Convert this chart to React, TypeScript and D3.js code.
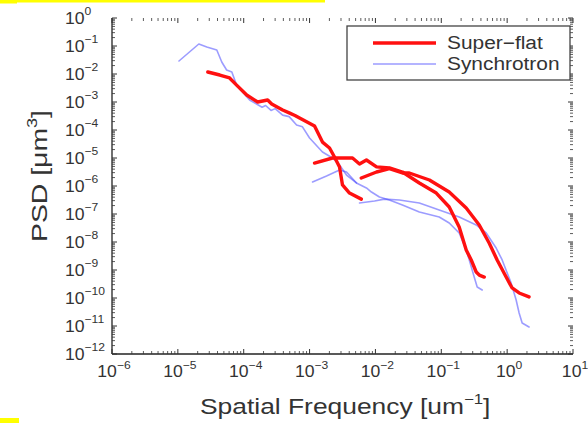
import React from "react";
import * as d3 from "d3";

// ---- data ----
const redAFreq = [2.85e-5, 4.33e-5, 6.1e-5, 7.8e-5, 1.11e-4, 1.63e-4, 2.31e-4, 2.66e-4, 3.9e-4, 5.0e-4, 6.0e-4, 7.05e-4, 1.19e-3, 1.57e-3, 2.01e-3, 2.39e-3, 2.85e-3, 3.16e-3, 4.04e-3, 6.1e-3];
const redAPsd = [1.18e-2, 9.2e-3, 7.2e-3, 4.0e-3, 1.78e-3, 1.0e-3, 1.18e-3, 8.5e-4, 5.2e-4, 4.0e-4, 3.3e-4, 2.68e-4, 1.39e-4, 3.7e-5, 2.28e-5, 1.09e-5, 4.8e-6, 1.09e-6, 5.6e-7, 3.4e-7];

const redBFreq = [1.19e-3, 2.23e-3, 4.49e-3, 5.73e-3, 7.3e-3, 1.04e-2, 1.63e-2, 2.57e-2, 4.64e-2, 8.4e-2, 0.132, 0.187, 0.239, 0.285, 0.339, 0.377, 0.449];
const redBPsd = [6.6e-6, 1.0e-5, 1.0e-5, 6.1e-6, 8.5e-6, 4.8e-6, 4.4e-6, 3.16e-6, 1.28e-6, 5.6e-7, 1.78e-7, 3.4e-8, 5.2e-9, 2.28e-9, 8.5e-10, 6.6e-10, 5.6e-10];

const redCFreq = [6.1e-3, 1.04e-2, 1.63e-2, 2.57e-2, 3.27e-2, 6.6e-2, 0.132, 0.239, 0.377, 0.533, 0.705, 0.966, 1.19, 1.52, 2.15];
const redCPsd = [1.93e-6, 3.16e-6, 4.2e-6, 2.91e-6, 2.91e-6, 1.64e-6, 6.1e-7, 1.64e-7, 4.05e-8, 9.2e-9, 2.28e-9, 5.6e-10, 2.28e-10, 1.51e-10, 1.09e-10];

const blue1Freq = [1.04e-5, 2.08e-5, 2.75e-5, 3.9e-5, 4.64e-5, 5.5e-5, 6.6e-5, 7.8e-5, 1.23e-4, 1.5e-4, 1.9e-4, 2.15e-4, 2.6e-4, 3.0e-4, 3.9e-4, 4.9e-4, 6.35e-4, 7.8e-4, 1.0e-3, 1.57e-3, 2.23e-3, 2.85e-3, 3.64e-3, 5.15e-3];
const blue1Psd = [2.91e-2, 0.118, 9.2e-2, 7.2e-2, 2.68e-2, 1.39e-2, 1.18e-2, 4.0e-3, 1.18e-3, 9.0e-4, 6.5e-4, 7.5e-4, 5.0e-4, 5.8e-4, 3.4e-4, 3.0e-4, 1.51e-4, 1.3e-4, 5.2e-5, 1.64e-5, 1.0e-5, 5.6e-6, 2.47e-6, 1.28e-6];

const blue2Freq = [1.11e-3, 1.81e-3, 2.85e-3, 3.64e-3, 5.15e-3, 7.3e-3, 8.7e-3, 1.15e-2, 1.63e-2, 2.57e-2, 4.64e-2, 9.3e-2, 0.132, 0.187, 0.239, 0.266, 0.316, 0.351, 0.418];
const blue2Psd = [1.39e-6, 2.28e-6, 3.73e-6, 3.16e-6, 1.28e-6, 8.5e-7, 6.1e-7, 4.05e-7, 3.16e-7, 2.1e-7, 1.18e-7, 7.8e-8, 4.77e-8, 2.1e-8, 5.2e-9, 2.28e-9, 5.6e-10, 2.47e-10, 1.93e-10];

const blue3Freq = [5.73e-3, 9.7e-3, 1.37e-2, 2.31e-2, 4.64e-2, 9.3e-2, 0.187, 0.339, 0.481, 0.681, 0.84, 1.15, 1.37, 1.52, 1.69, 2.15];
const blue3Psd = [2.47e-7, 2.91e-7, 3.4e-7, 3.16e-7, 2.47e-7, 1.39e-7, 7.8e-8, 4.05e-8, 2.1e-8, 6.1e-9, 2.28e-9, 3.4e-10, 8.5e-11, 2.91e-11, 1.28e-11, 9.2e-12];

const xTickExps = [-6, -5, -4, -3, -2, -1, 0, 1];
const yTickExps = [0, -1, -2, -3, -4, -5, -6, -7, -8, -9, -10, -11, -12];
const legendLabels = ["Super\u2212flat", "Synchrotron"];
const xTitle = "Spatial Frequency [um";
const yTitle = "PSD [\u03bcm";

const FONT = "'Liberation Sans', Arial, Helvetica, sans-serif";
const RED = "#ff1010";
const BLUE = "#4a4aff";

export default function App() {
  const L = 112, R = 573, T = 18, B = 354;
  const x = d3.scaleLog().domain([1e-6, 10]).range([L, R]);
  const y = d3.scaleLog().domain([1e-12, 1]).range([B, T]);
  const line = d3
    .line<[number, number]>()
    .x((d) => x(d[0]))
    .y((d) => y(d[1]))
    .curve(d3.curveLinear);
  const zip = (a: number[], b: number[]) => a.map((v, i) => [v, b[i]] as [number, number]);

  const redSeries = [zip(redAFreq, redAPsd), zip(redBFreq, redBPsd), zip(redCFreq, redCPsd)];
  const blueSeries = [zip(blue1Freq, blue1Psd), zip(blue2Freq, blue2Psd), zip(blue3Freq, blue3Psd)];

  const xMinor: number[] = [];
  for (let e = -6; e < 1; e++) for (let m = 2; m <= 9; m++) xMinor.push(m * Math.pow(10, e));
  const yMinor: number[] = [];
  for (let e = -12; e < 0; e++) for (let m = 2; m <= 9; m++) yMinor.push(m * Math.pow(10, e));

  const tickColor = "#333";
  const minus = (e: number) => (e < 0 ? "\u2212" + Math.abs(e) : String(e));

  return (
    <svg
      width={588}
      height={423}
      style={{ position: "absolute", left: 0, top: 0, background: "#fff" }}
      fontFamily={FONT}
    >
      <rect x={0} y={0} width={588} height={423} fill="#fff" />
      <rect x={0} y={0} width={325} height={2.5} fill="#ffff00" />
      <rect x={0} y={0} width={17} height={3.5} fill="#ffff00" />
      <rect x={0} y={418} width={19} height={5} fill="#ffff00" />

      <line x1={L} y1={T} x2={L} y2={B} stroke="#222" strokeWidth={1.3} />
      <line x1={L} y1={B} x2={R} y2={B} stroke="#222" strokeWidth={1.3} />

      {xTickExps.map((e) => {
        const px = x(Math.pow(10, e));
        return (
          <g key={"xt" + e}>
            <line x1={px} x2={px} y1={B} y2={B - 5} stroke={tickColor} strokeWidth={1} />
            <line x1={px} x2={px} y1={T} y2={T + 5} stroke={tickColor} strokeWidth={1} />
            <g transform={`translate(${px + 2},377) scale(1.1,1)`}>
              <text x={0} y={0} textAnchor="middle" fontSize={16} fill="#333">
                10
                <tspan fontSize={11} dy={-8}>{minus(e)}</tspan>
              </text>
            </g>
          </g>
        );
      })}
      {xMinor.map((v, i) => {
        const px = x(v);
        return (
          <g key={"xm" + i}>
            <line x1={px} x2={px} y1={B} y2={B - 3} stroke={tickColor} strokeWidth={0.8} />
            <line x1={px} x2={px} y1={T} y2={T + 3} stroke={tickColor} strokeWidth={0.8} />
          </g>
        );
      })}

      {yTickExps.map((e) => {
        const py = y(Math.pow(10, e));
        return (
          <g key={"yt" + e}>
            <line x1={L} x2={L + 5} y1={py} y2={py} stroke={tickColor} strokeWidth={1} />
            <line x1={R} x2={R - 5} y1={py} y2={py} stroke={tickColor} strokeWidth={1} />
            <g transform={`translate(65,${py + 6}) scale(1.1,1)`}>
              <text x={0} y={0} fontSize={16} fill="#333">
                10
                <tspan fontSize={11} dy={-9}>{minus(e)}</tspan>
              </text>
            </g>
          </g>
        );
      })}
      {yMinor.map((v, i) => {
        const py = y(v);
        return (
          <g key={"ym" + i}>
            <line x1={L} x2={L + 3} y1={py} y2={py} stroke={tickColor} strokeWidth={0.8} />
            <line x1={R} x2={R - 3} y1={py} y2={py} stroke={tickColor} strokeWidth={0.8} />
          </g>
        );
      })}

      <g fill="none" strokeLinejoin="round" strokeLinecap="round">
        {blueSeries.map((s, i) => (
          <path key={"b" + i} d={line(s) || ""} stroke={BLUE} strokeOpacity={0.55} strokeWidth={1.6} />
        ))}
        {redSeries.map((s, i) => (
          <path key={"r" + i} d={line(s) || ""} stroke={RED} strokeWidth={3.4} />
        ))}
      </g>

      <rect x={347} y={26} width={223} height={54} fill="#fff" stroke="#444" strokeWidth={1.3} />
      <line x1={373} x2={436} y1={43} y2={43} stroke={RED} strokeWidth={3.4} />
      <line x1={373} x2={436} y1={64} y2={64} stroke={BLUE} strokeOpacity={0.55} strokeWidth={1.6} />
      <g transform="translate(447,49) scale(1.16,1)">
        <text x={0} y={0} fontSize={18} fill="#333">{legendLabels[0]}</text>
      </g>
      <g transform="translate(447,70) scale(1.16,1)">
        <text x={0} y={0} fontSize={18} fill="#333">{legendLabels[1]}</text>
      </g>

      <g transform="translate(200,414) scale(1.2,1)">
        <text x={0} y={0} fontSize={22} fill="#333">
          {xTitle}
          <tspan fontSize={14} dy={-10}>{"\u22121"}</tspan>
          <tspan dy={10}>]</tspan>
        </text>
      </g>
      <g transform="translate(47,242) rotate(-90) scale(1.29,1)">
        <text x={0} y={0} fontSize={22} fill="#333">
          {yTitle}
          <tspan fontSize={14} dy={-10}>3</tspan>
          <tspan dy={10}>]</tspan>
        </text>
      </g>
    </svg>
  );
}
